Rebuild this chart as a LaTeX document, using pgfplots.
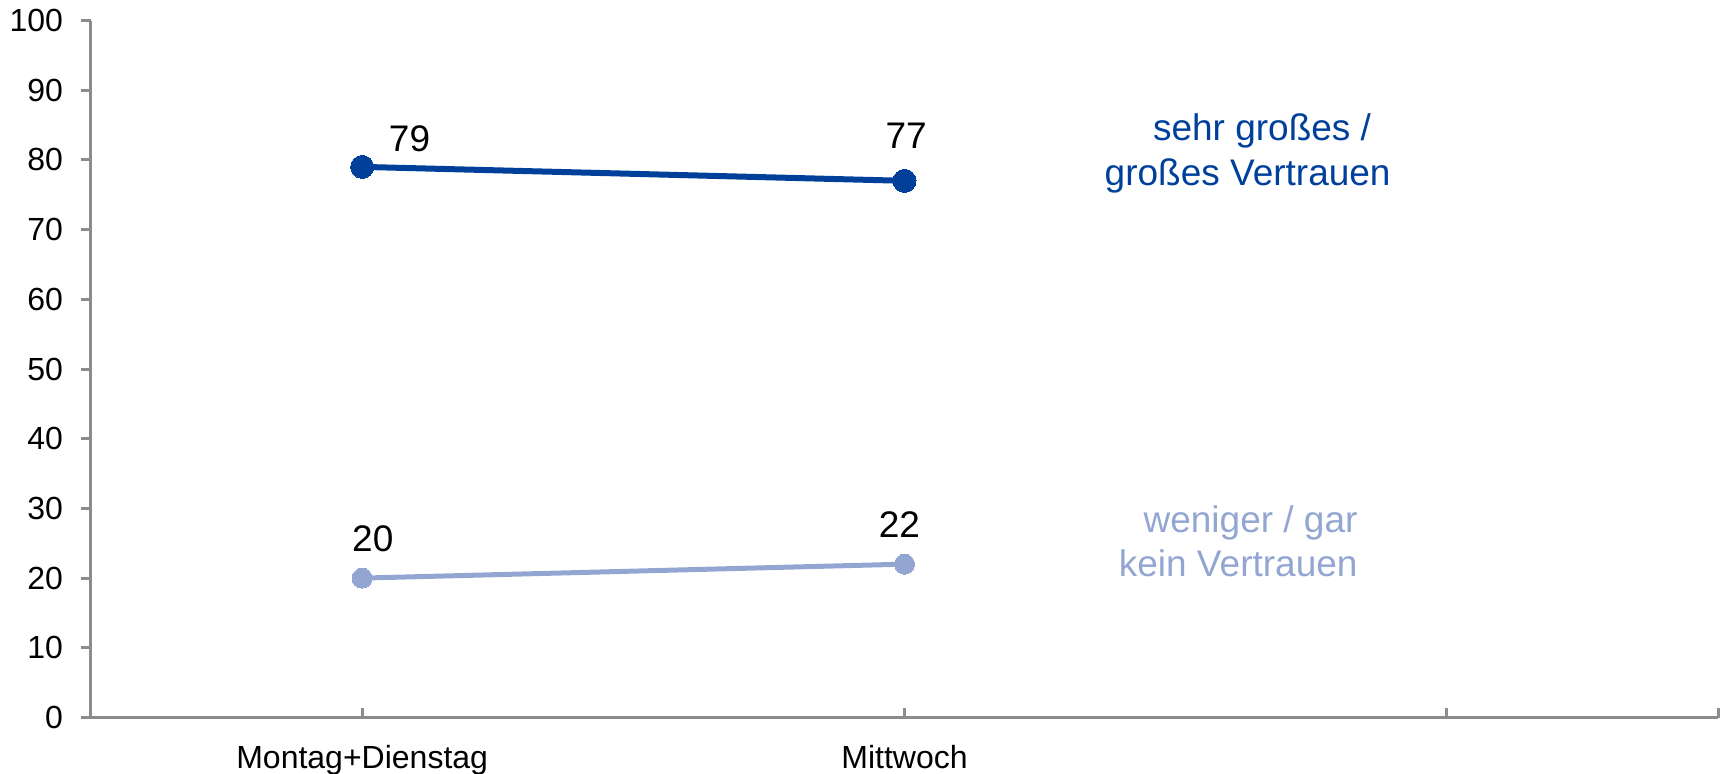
\documentclass[border=0pt]{standalone}
\usepackage{fontspec}
\setmainfont{Liberation Sans}
\usepackage{pgfplots}
\pgfplotsset{compat=1.18}
\definecolor{darkblue}{HTML}{00409A}
\definecolor{lightblue}{HTML}{93A6D2}
\definecolor{axisgray}{HTML}{8C8C8C}
\begin{document}
\begin{tikzpicture}
\path[use as bounding box] (-45.5pt,-27.75pt) rectangle (814.5pt,358.75pt);
\begin{axis}[
  at={(0,0)}, anchor=south west,
  scale only axis, width=813.5pt, height=348.5pt,
  xmin=0, xmax=3, ymin=0, ymax=100,
  axis lines=left, axis line style={-, draw=axisgray, line width=1.5pt},
  tick align=inside, major tick length=5pt,
  tick style={draw=axisgray, line width=1.5pt},
  ytick style={xshift=-5pt},
  ytick={0,10,...,100},
  xtick={0.5,1.5,2.5,3},
  xticklabels={Montag+Dienstag,Mittwoch,,},
  /pgf/number format/assume math mode=true,
  yticklabel style={font=\fontsize{16pt}{18pt}\selectfont, xshift=-10.5pt},
  xticklabel style={font=\fontsize{16pt}{18pt}\selectfont, anchor=base, yshift=-25.5pt},
  clip=false,
]
\addplot[darkblue, line width=3pt, mark=*, mark size=5.75pt, mark options={solid, fill=darkblue, draw=darkblue, line width=0pt}]
  coordinates {(0.5,79) (1.5,77)};
\addplot[lightblue, line width=2.5pt, mark=*, mark size=5pt, mark options={solid, fill=lightblue, draw=lightblue, line width=0pt}]
  coordinates {(0.5,20) (1.5,22)};
\begin{scope}[every node/.style={font=\fontsize{18.5pt}{21pt}\selectfont, anchor=base, inner sep=0pt}]
\node[xshift=23.7pt, yshift=7.5pt] at (axis cs:0.5,79) {79};
\node[xshift=0.85pt, yshift=16.2pt] at (axis cs:1.5,77) {77};
\node[xshift=5.3pt, yshift=13.3pt] at (axis cs:0.5,20) {20};
\node[xshift=-2.5pt, yshift=13.3pt] at (axis cs:1.5,22) {22};
\end{scope}
\begin{scope}[every node/.style={font=\fontsize{18.5pt}{21pt}\selectfont, anchor=base east, inner sep=0pt}]
\node[text=darkblue] at (axis cs:2.361,82.85) {sehr großes /};
\node[text=darkblue] at (axis cs:2.397,76.26) {großes Vertrauen};
\node[text=lightblue] at (axis cs:2.336,26.6) {weniger / gar};
\node[text=lightblue] at (axis cs:2.336,20.3) {kein Vertrauen};
\end{scope}
\end{axis}
\end{tikzpicture}
\end{document}
